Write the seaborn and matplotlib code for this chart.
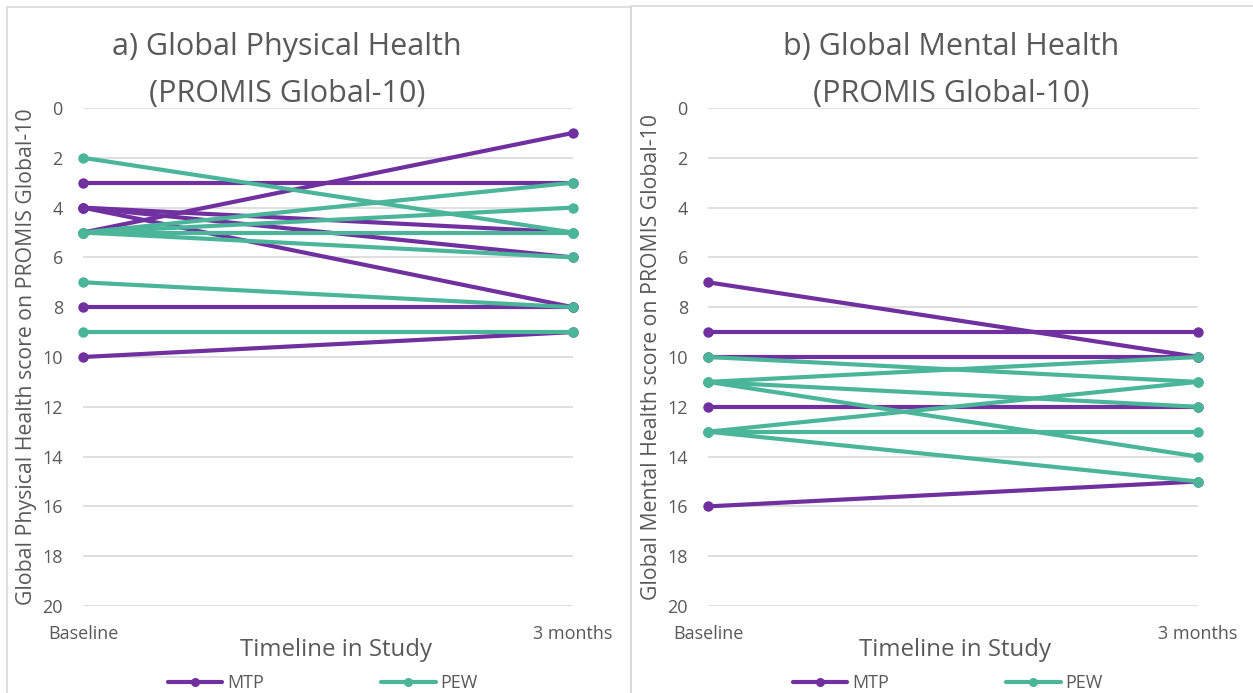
import matplotlib
matplotlib.use("Agg")
import matplotlib.pyplot as plt
import seaborn as sns
import pandas as pd
from matplotlib.lines import Line2D
from matplotlib.patches import Rectangle

# ---------------- data ----------------
timepoints = ["Baseline", "3 months"]
groups = ["MTP", "PEW"]

# Panel a) Global Physical Health (baseline, 3 months)
phys_mtp_baseline = [5, 3, 4, 4, 4, 8, 10]
phys_mtp_3months = [1, 3, 5, 6, 8, 8, 9]
phys_pew_baseline = [2, 5, 5, 5, 5, 7, 9]
phys_pew_3months = [5, 3, 4, 5, 6, 8, 9]

# Panel b) Global Mental Health
ment_mtp_baseline = [7, 9, 10, 12, 16]
ment_mtp_3months = [10, 9, 10, 12, 15]
ment_pew_baseline = [10, 11, 11, 11, 13, 13, 13]
ment_pew_3months = [11, 10, 12, 14, 11, 13, 15]

title_line1 = ["a) Global Physical Health", "b) Global Mental Health"]
title_line2 = ["(PROMIS Global-10)", "(PROMIS Global-10)"]
ylabels = ["Global Physical Health score on PROMIS Global-10",
           "Global Mental Health score on PROMIS Global-10"]
xlabel = "Timeline in Study"
yticks = list(range(0, 21, 2))

PURPLE = "#7030A0"
TEAL = "#4BB59A"
TXT = "#595959"


def build(mb, m3, pb, p3):
    rows = []
    pid = 0
    for grp, b, t in (("MTP", mb, m3), ("PEW", pb, p3)):
        for vb, vt in zip(b, t):
            rows.append({"pid": pid, "group": grp, "time": 0, "score": vb})
            rows.append({"pid": pid, "group": grp, "time": 1, "score": vt})
            pid += 1
    return pd.DataFrame(rows)


data = [build(phys_mtp_baseline, phys_mtp_3months, phys_pew_baseline, phys_pew_3months),
        build(ment_mtp_baseline, ment_mtp_3months, ment_pew_baseline, ment_pew_3months)]

sns.set_theme(style="white")
plt.rcParams["font.family"] = ["Open Sans", "DejaVu Sans"]

W, H = 1253, 693
fig = plt.figure(figsize=(W / 100, H / 100), dpi=100)

# chart borders
fig.add_artist(Rectangle((7 / W, -0.01), (631 - 7) / W, 1 - 7 / H + 0.01,
                         transform=fig.transFigure, fill=False, ec="#d9d9d9", lw=1.2))
fig.add_artist(Rectangle((631 / W, -0.01), 1.0, 1 - 6 / H + 0.01,
                         transform=fig.transFigure, fill=False, ec="#d9d9d9", lw=1.2))

ax_left = [83, 708]
title_cx = [287, 951]
xlabel_cx = [336, 955]
for i in range(2):
    x0 = ax_left[i]
    ax = fig.add_axes([x0 / W, 1 - 606 / H, 490 / W, (606 - 108) / H])
    sns.lineplot(data=data[i], x="time", y="score", hue="group", units="pid",
                 estimator=None, hue_order=groups,
                 palette={"MTP": PURPLE, "PEW": TEAL},
                 marker="o", markersize=7.5, markeredgewidth=0, linewidth=3.0,
                 legend=False, ax=ax, clip_on=False)
    ax.set_xlim(0, 1)
    ax.set_ylim(20, 0)
    ax.set_yticks(yticks)
    ax.set_xticks([0, 1])
    ax.set_xticklabels(timepoints)
    ax.grid(axis="y", color="#d9d9d9", lw=1.2)
    ax.set_axisbelow(True)
    for s in ax.spines.values():
        s.set_visible(False)
    ax.tick_params(axis="y", length=0, pad=14.5, labelsize=13, labelcolor=TXT)
    ax.tick_params(axis="x", length=0, pad=14, labelsize=13, labelcolor=TXT)
    ax.set_xlabel(xlabel, fontsize=17.3, color=TXT)
    ax.xaxis.set_label_coords((xlabel_cx[i] - x0) / 490, -(650 - 606) / 498)
    ax.xaxis.label.set_va("center")
    ax.set_ylabel(ylabels[i], fontsize=15.3, color=TXT, labelpad=4)

    # two-line chart title
    fig.text(title_cx[i] / W, 1 - 55 / H, title_line1[i], fontsize=22, color=TXT,
             ha="center", va="baseline")
    fig.text(title_cx[i] / W, 1 - 102 / H, title_line2[i], fontsize=22, color=TXT,
             ha="center", va="baseline")

    handles = [Line2D([], [], color=PURPLE, lw=3.0, marker="o", markersize=6.5, markeredgewidth=0),
               Line2D([], [], color=TEAL, lw=3.0, marker="o", markersize=6.5, markeredgewidth=0)]
    fig.legend(handles, groups, loc="center left", ncol=2, frameon=False,
               bbox_to_anchor=((x0 + 85) / W, 1 - 683 / H),
               fontsize=13, labelcolor=TXT, handlelength=3.0, columnspacing=6.5,
               handletextpad=0.28, borderaxespad=0, borderpad=0)

fig.savefig("out.png", dpi=100)
